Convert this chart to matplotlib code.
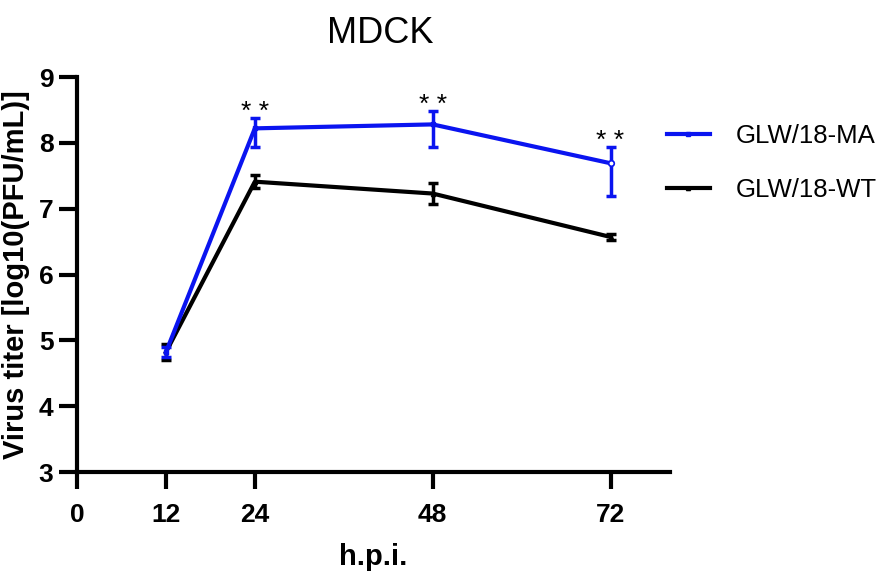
import matplotlib
matplotlib.use('Agg')
import matplotlib.pyplot as plt

plt.rcParams['font.family'] = ['Liberation Sans', 'DejaVu Sans']

# Data
hours = [12, 24, 48, 72]
ma_mean = [4.82, 8.22, 8.28, 7.69]
ma_err_low = [0.08, 0.28, 0.34, 0.50]
ma_err_high = [0.08, 0.15, 0.20, 0.24]
wt_mean = [4.82, 7.41, 7.23, 6.57]
wt_err = [0.12, 0.10, 0.16, 0.05]
star_hours = [24, 48, 72]
x_ticks = [0, 12, 24, 48, 72]
y_ticks = [3, 4, 5, 6, 7, 8, 9]

blue = '#0a14f0'

fig = plt.figure(figsize=(8.86, 5.79), dpi=100)
ax = fig.add_axes([0.0869, 0.1848, 0.6691, 0.6822])

wt = ax.errorbar(hours, wt_mean, yerr=wt_err, color='black', lw=3, marker='^',
                 ms=3, capsize=3.5, elinewidth=2.5, capthick=2.5,
                 label='GLW/18-WT', zorder=2)
ma = ax.errorbar(hours, ma_mean, yerr=[ma_err_low, ma_err_high], color=blue,
                 lw=3, marker='s', ms=3, capsize=3.5, elinewidth=2.5,
                 capthick=2.5, label='GLW/18-MA', zorder=3)
# open circle on the last MA point
ax.plot(hours[-1:], ma_mean[-1:], 'o', ms=4, mfc='white', mec=blue, mew=1.2,
        zorder=4)

# significance marks above the MA error bars
for h in star_hours:
    i = hours.index(h)
    ax.annotate('* *', (h, ma_mean[i] + ma_err_high[i]), xytext=(0, -4),
                textcoords='offset points', ha='center', va='bottom',
                fontsize=19)

ax.set_xlim(0, 80)
ax.set_ylim(3, 9)
ax.set_xticks(x_ticks)
ax.set_yticks(y_ticks)
ax.tick_params(width=3, labelsize=19)
ax.tick_params(axis='x', length=12, pad=10)
ax.tick_params(axis='y', length=13, pad=4)
for lab in ax.get_xticklabels() + ax.get_yticklabels():
    lab.set_fontweight('bold')
for s in ['top', 'right']:
    ax.spines[s].set_visible(False)
for s in ['left', 'bottom']:
    ax.spines[s].set_linewidth(3)

ax.set_xlabel('h.p.i.', fontsize=21, fontweight='bold', labelpad=12)
ax.set_ylabel('Virus titer [log10(PFU/mL)]', fontsize=21, fontweight='bold',
              labelpad=6)
fig.text(0.429, 0.972, 'MDCK', fontsize=26, ha='center', va='top')

leg = fig.legend([ma.lines[0], wt.lines[0]], ['GLW/18-MA', 'GLW/18-WT'],
                 loc='upper left', bbox_to_anchor=(0.727, 0.825),
                 frameon=False, fontsize=18.5, handlelength=1.65,
                 handletextpad=1.0, labelspacing=1.15)

fig.savefig('out.png', dpi=100)
